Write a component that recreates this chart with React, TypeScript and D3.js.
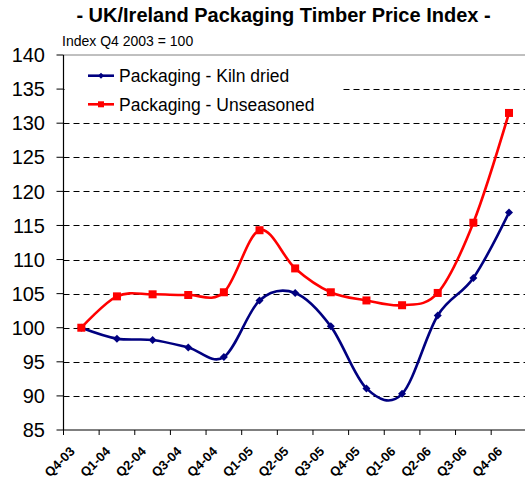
import React from "react";
import * as d3 from "d3";

const categories = ["Q4-03","Q1-04","Q2-04","Q3-04","Q4-04","Q1-05","Q2-05","Q3-05","Q4-05","Q1-06","Q2-06","Q3-06","Q4-06"];
const kilnDried = [100, 98.4, 98.2, 97.1, 95.7, 104.0, 105.1, 100.2, 91.1, 90.3, 101.8, 107.3, 116.9];
const unseasoned = [100, 104.6, 104.9, 104.8, 105.2, 114.3, 108.7, 105.2, 104.0, 103.3, 105.1, 115.4, 131.5];
const yTicks = [85, 90, 95, 100, 105, 110, 115, 120, 125, 130, 135, 140];
const gridValues = [90, 95, 100, 105, 110, 115, 120, 125, 130, 135];
const seriesNames = ["Packaging - Kiln dried", "Packaging - Unseasoned"];
const title = "- UK/Ireland Packaging Timber Price Index -";
const subtitle = "Index Q4 2003 = 100";

const FONT = "'Liberation Sans', Arial, sans-serif";

export default function App() {
  const left = 63.5;
  const step = 35.64;
  const x = d3.scaleBand<string>().domain(categories).range([left, left + step * categories.length]).padding(0);
  const y = d3.scaleLinear().domain([85, 140]).range([430, 55]);
  const cx = (c: string) => (x(c) as number) + x.bandwidth() / 2;
  const line = d3
    .line<number>()
    .x((_, i) => cx(categories[i]))
    .y((d) => y(d))
    .curve(d3.curveCardinal.tension(0));

  const blue = "#000080";
  const red = "#FF0000";
  const bottom = y(85);

  const diamond = (px: number, py: number, r: number) =>
    `M${px},${py - r}L${px + r},${py}L${px},${py + r}L${px - r},${py}Z`;

  return (
    <svg width={525} height={488} style={{ position: "absolute", left: 0, top: 0, background: "#fff" }}>
      <rect x={0} y={0} width={525} height={488} fill="#fff" />
      <text x={283.5} y={22} textAnchor="middle" fontFamily={FONT} fontWeight="bold" fontSize={20}>{title}</text>
      <text x={62} y={46} fontFamily={FONT} fontSize={14}>{subtitle}</text>

      {/* top border */}
      <line x1={left} x2={530} y1={y(140)} y2={y(140)} stroke="#808080" strokeWidth={1} />

      {/* grid */}
      {gridValues.map((v) => (
        <line key={v} x1={left} x2={530} y1={Math.round(y(v)) + 0.5} y2={Math.round(y(v)) + 0.5} stroke="#000" strokeWidth={1} strokeDasharray="6,4" />
      ))}

      {/* legend background */}
      <rect x={left + 1} y={56} width={276} height={58} fill="#fff" />

      {/* axes */}
      <line x1={left} x2={left} y1={y(140)} y2={bottom} stroke="#000" strokeWidth={1.2} />
      <line x1={left} x2={530} y1={bottom} y2={bottom} stroke="#000" strokeWidth={1.2} />
      {yTicks.map((v) => (
        <g key={v}>
          <line x1={left - 7} x2={left} y1={y(v)} y2={y(v)} stroke="#000" strokeWidth={1} />
          <text x={45} y={y(v)} dy="0.36em" textAnchor="end" fontFamily={FONT} fontSize={20}>{v}</text>
        </g>
      ))}
      {d3.range(categories.length + 1).map((i) => (
        <line key={i} x1={left + i * step} x2={left + i * step} y1={bottom} y2={bottom + 5} stroke="#000" strokeWidth={1} />
      ))}
      {categories.map((c) => (
        <text key={c} transform={`translate(${cx(c) - 9},${449}) rotate(-45)`} textAnchor="end" dy="0.35em" fontFamily={FONT} fontWeight="bold" fontSize={13}>{c}</text>
      ))}

      {/* lines */}
      <path d={line(kilnDried) || ""} fill="none" stroke={blue} strokeWidth={2.6} />
      <path d={line(unseasoned) || ""} fill="none" stroke={red} strokeWidth={2.6} />
      {kilnDried.map((v, i) => (
        <path key={i} d={diamond(cx(categories[i]), y(v), 4)} fill={blue} />
      ))}
      {unseasoned.map((v, i) => (
        <rect key={i} x={cx(categories[i]) - 4} y={y(v) - 4} width={8} height={8} fill={red} />
      ))}

      {/* legend */}
      <line x1={88} x2={114} y1={75.7} y2={75.7} stroke={blue} strokeWidth={2.6} />
      <path d={diamond(101, 75.7, 3)} fill={blue} />
      <text x={119} y={75.7} dy="0.36em" fontFamily={FONT} fontSize={17.5}>{seriesNames[0]}</text>
      <line x1={88} x2={114} y1={104.3} y2={104.3} stroke={red} strokeWidth={2.6} />
      <rect x={98} y={101.3} width={6} height={6} fill={red} />
      <text x={119} y={104.3} dy="0.36em" fontFamily={FONT} fontSize={17.5}>{seriesNames[1]}</text>
    </svg>
  );
}
